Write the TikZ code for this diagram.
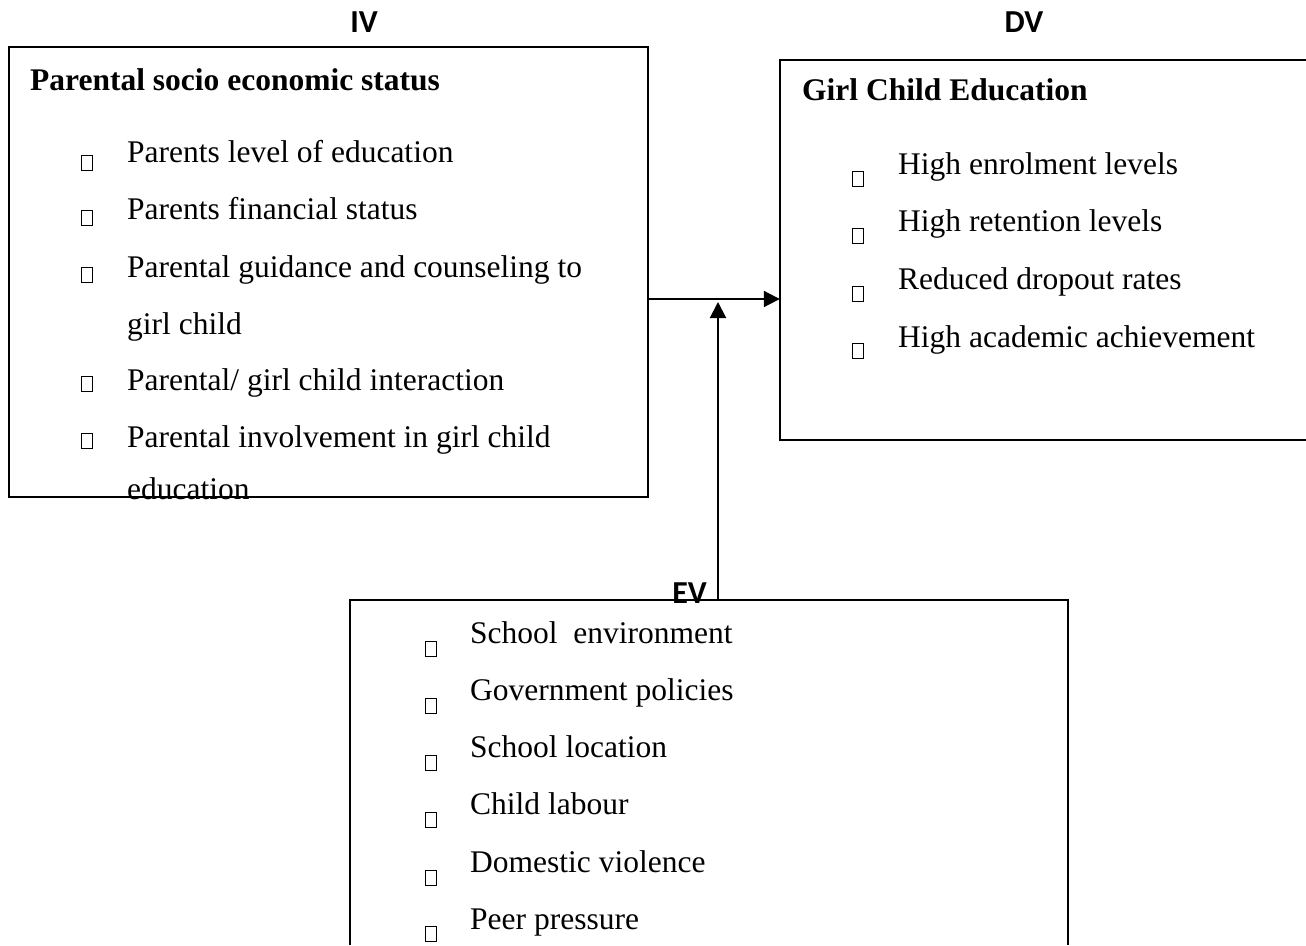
\documentclass[tikz,border=0pt]{standalone}
\usepackage{fontspec}
\setmainfont{Liberation Serif}
\newfontfamily\labfont{Carlito}
\usetikzlibrary{arrows.meta}
\begin{document}
\begin{tikzpicture}[x=1pt,y=-1pt,
  boxline/.style={line width=1.9pt, line join=miter},
  item/.style={anchor=base west, inner sep=0pt, font=\fontsize{31.5}{37}\selectfont},
  head/.style={anchor=base west, inner sep=0pt, font=\fontsize{31.5}{37}\selectfont\bfseries},
  tag/.style={anchor=base, inner sep=0pt, font=\labfont\bfseries\fontsize{32}{38}\selectfont},
  bul/.style={draw, line width=1.6pt, inner sep=0pt, minimum width=11pt, minimum height=15pt},
  conn/.style={line width=2pt, -{Triangle[length=16pt,width=16pt]}}]
\useasboundingbox (0,0) rectangle (1306,945);
\fill[white] (0,0) rectangle (1306,945);

% boxes
\node[draw, boxline, minimum width=639pt, minimum height=450pt, inner sep=0pt] (iv) at (328.5,272) {};
\node[minimum width=526pt, minimum height=380pt, inner sep=0pt] (dv) at (1043,250) {};
\node[minimum width=718pt, minimum height=345pt, inner sep=0pt] (ev) at (709,772.5) {};
\draw[boxline] (dv.north east) -- (dv.north west) -- (dv.south west) -- (dv.south east);
\draw[boxline] (ev.south west) -- (ev.north west) -- (ev.north east) -- (ev.south east);

% tags
\node[tag] (ivl) at (364,32) {IV};
\node[tag] (dvl) at (1024,32) {DV};
\node[tag, anchor=base east] (evl) at (707,603) {EV};

% IV content
\node[head] (ivh) at (30,90) {Parental socio economic status};
\node[item] (iv1) at (127,162) {Parents level of education};
\node[item] (iv2) at (127,219) {Parents financial status};
\node[item] (iv3) at (127,277) {Parental guidance and counseling to};
\node[item] (iv3b) at (127,334) {girl child};
\node[item] (iv4) at (127,390) {Parental/ girl child interaction};
\node[item] (iv5) at (127,447) {Parental involvement in girl child};
\node[item] (iv5b) at (127,499) {education};
\node[bul] (ivb1) at (87,163) {};
\node[bul] (ivb2) at (87,218) {};
\node[bul] (ivb3) at (87,275) {};
\node[bul] (ivb4) at (87,384) {};
\node[bul] (ivb5) at (87,441) {};

% DV content
\node[head] (dvh) at (802,100) {Girl Child Education};
\node[item] (dv1) at (898,174) {High enrolment levels};
\node[item] (dv2) at (898,231) {High retention levels};
\node[item] (dv3) at (898,289) {Reduced dropout rates};
\node[item] (dv4) at (898,347) {High academic achievement};
\node[bul] (dvb1) at (858,179) {};
\node[bul] (dvb2) at (858,236) {};
\node[bul] (dvb3) at (858,294) {};
\node[bul] (dvb4) at (858,351) {};

% EV content
\node[item] (ev1) at (470,643) {School\ \ environment};
\node[item] (ev2) at (470,700) {Government policies};
\node[item] (ev3) at (470,757) {School location};
\node[item] (ev4) at (470,814) {Child labour};
\node[item] (ev5) at (470,872) {Domestic violence};
\node[item] (ev6) at (470,929) {Peer pressure};
\node[bul] (evb1) at (431,649) {};
\node[bul] (evb2) at (431,706) {};
\node[bul] (evb3) at (431,763) {};
\node[bul] (evb4) at (431,820) {};
\node[bul] (evb5) at (431,878) {};
\node[bul] (evb6) at (431,934) {};

% connectors
\coordinate (j) at (718,299);
\draw[conn] (j -| iv.east) -- (j -| dv.west);
\draw[conn] (ev.north -| j) -- ([yshift=-3pt]j);
\end{tikzpicture}
\end{document}
